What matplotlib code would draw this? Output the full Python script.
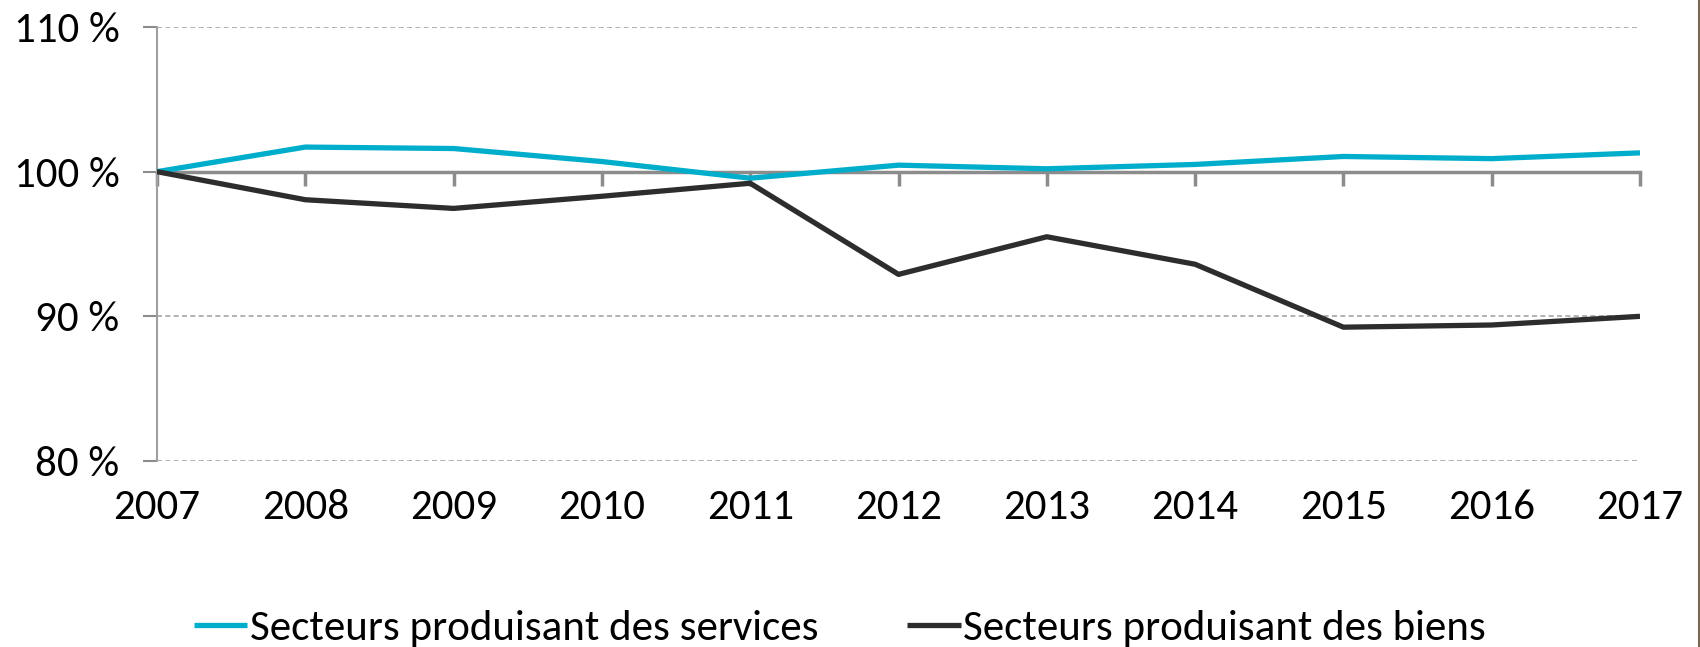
import matplotlib
matplotlib.use("Agg")
import matplotlib.pyplot as plt
from matplotlib.lines import Line2D
from matplotlib.ticker import FixedLocator

years = [2007, 2008, 2009, 2010, 2011, 2012, 2013, 2014, 2015, 2016, 2017]
services = [100.0, 101.7, 101.6, 100.7, 99.55, 100.45, 100.2, 100.5, 101.05, 100.9, 101.3]
goods = [100.0, 98.06, 97.46, 98.3, 99.2, 92.9, 95.5, 93.6, 89.25, 89.4, 90.0]
yticks = [80, 90, 100, 110]
ytick_labels = ["80 %", "90 %", "100 %", "110 %"]
series_names = ["Secteurs produisant des services", "Secteurs produisant des biens"]

FONT = ["Carlito", "Roboto", "DejaVu Sans"]
plt.rcParams["font.family"] = FONT
FS = 31

fig = plt.figure(figsize=(17.0, 6.47), dpi=100)
ax = fig.add_axes([157/1700, 1-461/647, (1640-157)/1700, (461-27)/647])

ax.set_xlim(2007, 2017)
ax.set_ylim(80, 110)

for y in [80, 90, 110]:
    ax.axhline(y, color="#a6a6a6", lw=1.2, ls=(0, (3, 2)), zorder=1)

l1, = ax.plot(years, services, color="#00AECB", lw=3.8, zorder=3, solid_capstyle="butt")
l2, = ax.plot(years, goods, color="#2d2d2d", lw=3.8, zorder=3, solid_capstyle="butt")

for s in ["top", "right", "bottom"]:
    ax.spines[s].set_visible(False)
ax.spines["left"].set_color("#a0a0a0")
ax.spines["left"].set_linewidth(1.5)
ax.set_yticks(yticks)
ax.set_yticklabels(ytick_labels, fontsize=FS)
ax.tick_params(axis="y", direction="out", length=10, width=1.5, color="#8c8c8c", pad=17)
ax.set_xticks(years)
ax.set_xticklabels([str(y) for y in years], fontsize=FS)
ax.tick_params(axis="x", length=0, pad=20)

# secondary axis at the 100 % line, ticks pointing down, no labels
frac = (100 - 80) / (110 - 80)
sec = ax.secondary_xaxis(frac)
for sp in sec.spines.values():
    sp.set_color("#8c8c8c")
    sp.set_linewidth(2.5)
sec.xaxis.set_major_locator(FixedLocator(years))
sec.xaxis.set_ticks_position("bottom")
sec.tick_params(axis="x", which="both", direction="out", length=10, width=2.5, color="#8c8c8c",
                bottom=True, top=False, labelbottom=False, labeltop=False)

leg = fig.legend([l1, l2], series_names, loc="center", bbox_to_anchor=(0.494, 1-628/647),
                 ncol=2, frameon=False, fontsize=FS, handlelength=1.25, handletextpad=0.05,
                 columnspacing=2.07, borderaxespad=0)

fig.add_artist(Line2D([0.9994, 0.9994], [0, 1], transform=fig.transFigure, color="#7a6a55", lw=1.5))

fig.savefig("out.png", dpi=100)
